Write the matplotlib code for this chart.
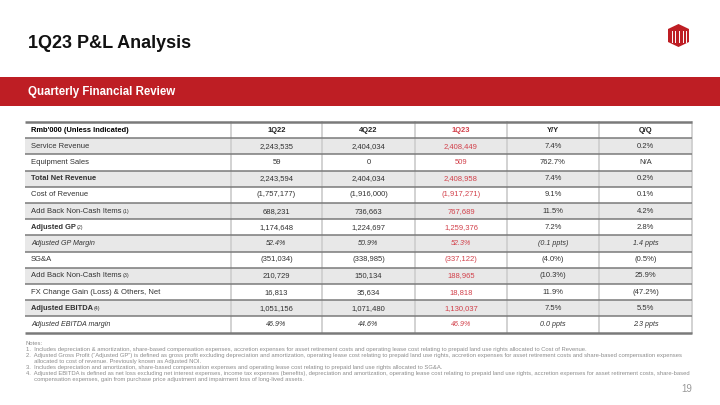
import matplotlib.pyplot as plt
from matplotlib.patches import Polygon, Rectangle

plt.rcParams['font.family'] = ['Liberation Sans', 'DejaVu Sans']

# table content
columns = ["Rmb'000 (Unless Indicated)", "1Q22", "4Q22", "1Q23", "Y/Y", "Q/Q"]
row_labels = ["Service Revenue", "Equipment Sales", "Total Net Revenue", "Cost of Revenue",
              "Add Back Non-Cash Items", "Adjusted GP", "Adjusted GP Margin", "SG&A",
              "Add Back Non-Cash Items", "FX Change Gain (Loss) & Others, Net",
              "Adjusted EBITDA", "Adjusted EBITDA margin"]
row_notes = ["", "", "", "", "(1)", "(2)", "", "", "(3)", "", "(4)", ""]
q1_22 = ["2,243,535", "59", "2,243,594", "(1,757,177)", "688,231", "1,174,648", "52.4%",
         "(351,034)", "210,729", "16,813", "1,051,156", "46.9%"]
q4_22 = ["2,404,034", "0", "2,404,034", "(1,916,000)", "736,663", "1,224,697", "50.9%",
         "(338,985)", "150,134", "35,634", "1,071,480", "44.6%"]
q1_23 = ["2,408,449", "509", "2,408,958", "(1,917,271)", "767,689", "1,259,376", "52.3%",
         "(337,122)", "188,965", "18,818", "1,130,037", "46.9%"]
yoy = ["7.4%", "762.7%", "7.4%", "9.1%", "11.5%", "7.2%", "(0.1 ppts)", "(4.0%)",
       "(10.3%)", "11.9%", "7.5%", "0.0 ppts"]
qoq = ["0.2%", "N/A", "0.2%", "0.1%", "4.2%", "2.8%", "1.4 ppts", "(0.5%)",
       "25.9%", "(47.2%)", "5.5%", "2.3 ppts"]
bold_rows = ["Total Net Revenue", "Adjusted GP", "Adjusted EBITDA"]
italic_rows = ["Adjusted GP Margin", "Adjusted EBITDA margin"]

notes = [
    "Notes:",
    "1.  Includes depreciation & amortization, share-based compensation expenses, accretion expenses for asset retirement costs and operating lease cost relating to prepaid land use rights allocated to Cost of Revenue.",
    "2.  Adjusted Gross Profit (\u201cAdjusted GP\u201d) is defined as gross profit excluding depreciation and amortization, operating lease cost relating to prepaid land use rights, accretion expenses for asset retirement costs and share-based compensation expenses",
    "     allocated to cost of revenue. Previously known as Adjusted NOI.",
    "3.  Includes depreciation and amortization, share-based compensation expenses and operating lease cost relating to prepaid land use rights allocated to SG&A.",
    "4.  Adjusted EBITDA is defined as net loss excluding net interest expenses, income tax expenses (benefits), depreciation and amortization, operating lease cost relating to prepaid land use rights, accretion expenses for asset retirement costs, share-based",
    "     compensation expenses, gain from purchase price adjustment and impairment loss of long-lived assets.",
]

RED = '#BE1E24'
HILITE = '#D2414B'

fig = plt.figure(figsize=(7.2, 4.05), dpi=100)
ax = fig.add_axes([0, 0, 1, 1])
ax.set_xlim(0, 720)
ax.set_ylim(405, 0)
ax.axis('off')

# title + banner
ax.text(28, 43.5, "1Q23 P&L Analysis", fontsize=13, fontweight='bold', va='center', color='#111111')
ax.add_patch(Rectangle((0, 76.5), 720, 29.5, color=RED, lw=0))
ax.text(28.5, 91.5, "Quarterly Financial Review", fontsize=8.3, fontweight='bold', va='center', color='white')

# logo: hexagon with white strokes
hexa = [(678.5, 24), (689, 29), (689, 42), (678.5, 47), (668, 42), (668, 29)]
ax.add_patch(Polygon(hexa, closed=True, color=RED, lw=0))
for xs in [671.5, 675, 679, 682.5, 686]:
    ax.plot([xs, xs], [31, 42], color='white', lw=0.7)

# table geometry
col_edges = [25, 231, 322, 415, 507, 599, 692]
top = 122
rh = 16.2
n_rows = len(row_labels) + 1

for i in range(len(row_labels)):
    y0 = top + rh * (i + 1)
    if i % 2 == 0:
        ax.add_patch(Rectangle((col_edges[0], y0), col_edges[-1] - col_edges[0], rh,
                               color='#E8E8E8', lw=0))

for x in col_edges[1:]:
    ax.plot([x, x], [top, top + rh * n_rows], color='#CFCFCF', lw=1.3)
for i in range(n_rows + 1):
    y = top + rh * i
    lw = 1.8 if i in (0, n_rows) else 1.1
    ax.plot([col_edges[0], col_edges[-1]], [y, y], color='#7A7A7A', lw=lw, solid_capstyle='butt')

fs_reg = 5.5
fs_bold = 5.4
fs_it = 5.1
# header
yc = top + rh / 2
ax.text(col_edges[0] + 6, yc, columns[0], fontsize=fs_bold, fontweight='bold', va='center', ha='left')
for j in range(1, 6):
    cx = (col_edges[j] + col_edges[j + 1]) / 2
    ax.text(cx, yc, columns[j], fontsize=fs_bold, fontweight='bold', va='center', ha='center',
            color=HILITE if columns[j] == "1Q23" else '#222222')

cols_data = [q1_22, q4_22, q1_23, yoy, qoq]
for i, lab in enumerate(row_labels):
    yc = top + rh * (i + 1) + rh / 2
    if lab in bold_rows:
        weight, style, fs = 'bold', 'normal', fs_bold
    elif lab in italic_rows:
        weight, style, fs = 'normal', 'italic', fs_it
    else:
        weight, style, fs = 'normal', 'normal', fs_reg
    t = ax.text(col_edges[0] + 6, yc, lab, fontsize=fs, fontweight=weight, fontstyle=style,
                va='center', ha='left', color='#333333')
    if row_notes[i]:
        ax.annotate(row_notes[i], xycoords=t, xy=(1, 0.5), xytext=(0.5, 0),
                    textcoords='offset points', fontsize=3.8, va='center', ha='left',
                    color='#333333')
    for j, vals in enumerate(cols_data):
        cx = (col_edges[j + 1] + col_edges[j + 2]) / 2
        ax.text(cx, yc, vals[i], fontsize=fs_it if style == 'italic' else fs_reg,
                fontstyle=style, va='center', ha='center',
                color=HILITE if j == 2 else '#333333')

# notes
ny = 343.5
for k, line in enumerate(notes):
    ax.text(26, ny + k * 6.0, line, fontsize=4.25, va='center', ha='left', color='#8C8C8C')

ax.text(692, 389.5, "19", fontsize=7, va='center', ha='right', color='#999999')

fig.savefig('out.png', dpi=100)
